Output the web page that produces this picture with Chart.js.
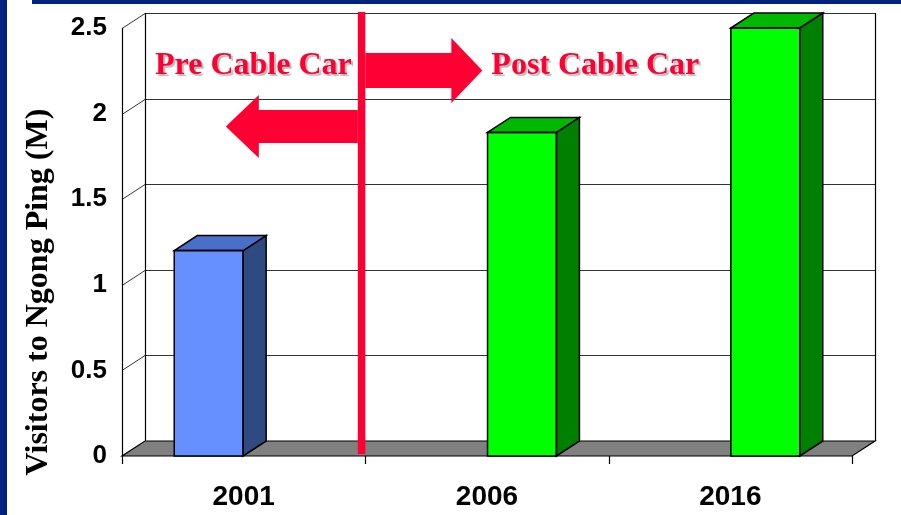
<!DOCTYPE html>
<html>
<head>
<meta charset="utf-8">
<script src="https://cdn.jsdelivr.net/npm/chart.js@4"></script>
<style>
  html, body { margin: 0; padding: 0; background: #ffffff; }
  #wrap { position: relative; width: 901px; height: 515px; }
</style>
</head>
<body>
<div id="wrap"><canvas id="c" width="901" height="515"></canvas></div>
<script>
// ---- data ----
const categories = ['2001', '2006', '2016'];
const preCableCar = [1.2, null, null];
const postCableCar = [null, 1.89, 2.5];
const yMin = 0;
const yMax = 2.5;
const yStep = 0.5;
const yTitle = 'Visitors to Ngong Ping (M)';
const preLabel = 'Pre Cable Car';
const postLabel = 'Post Cable Car';

// ---- style ----
const DX = 23, DY = 15;
const RED = '#FF0033';
const NAVY = '#00247D';
const faces = [
  { front: '#6690FF', top: '#4A6FC9', side: '#2F4A80' },
  { front: '#00FF00', top: '#00B800', side: '#008000' }
];

const threeD = {
  id: 'threeD',
  beforeDraw(chart) {
    const ctx = chart.ctx;
    ctx.save();
    ctx.fillStyle = '#ffffff';
    ctx.fillRect(0, 0, chart.width, chart.height);
    ctx.fillStyle = NAVY;
    ctx.fillRect(0, 0, 7, chart.height);
    ctx.fillRect(32, 0, chart.width - 32, 4);
    ctx.restore();
  },
  beforeDatasetsDraw(chart) {
    const ctx = chart.ctx;
    const a = chart.chartArea;
    const ys = chart.scales.y;
    ctx.save();
    ctx.lineWidth = 1;
    ctx.strokeStyle = '#333333';
    ys.ticks.forEach(t => {
      const py = Math.round(ys.getPixelForValue(t.value)) + 0.5;
      ctx.beginPath();
      ctx.moveTo(a.left + DX, py - DY);
      ctx.lineTo(a.right + DX, py - DY);
      ctx.stroke();
      ctx.beginPath();
      ctx.moveTo(a.left, py);
      ctx.lineTo(a.left + DX, py - DY);
      ctx.stroke();
    });
    ctx.strokeStyle = '#000000';
    ctx.lineWidth = 1.2;
    ctx.beginPath();
    ctx.moveTo(a.left + DX + 0.5, a.top - DY);
    ctx.lineTo(a.left + DX + 0.5, a.bottom - DY);
    ctx.moveTo(a.right + DX + 0.5, a.top - DY);
    ctx.lineTo(a.right + DX + 0.5, a.bottom - DY);
    ctx.stroke();
    ctx.beginPath();
    ctx.moveTo(a.left, a.bottom);
    ctx.lineTo(a.right, a.bottom);
    ctx.lineTo(a.right + DX, a.bottom - DY);
    ctx.lineTo(a.left + DX, a.bottom - DY);
    ctx.closePath();
    ctx.fillStyle = '#808080';
    ctx.fill();
    ctx.stroke();
    ctx.beginPath();
    ctx.moveTo(a.left + 0.5, a.top);
    ctx.lineTo(a.left + 0.5, a.bottom);
    ctx.stroke();
    const n = categories.length;
    const cw = (a.right - a.left) / n;
    ctx.beginPath();
    for (let i = 0; i <= n; i++) {
      const px = Math.round(a.left + i * cw) + 0.5;
      ctx.moveTo(px, a.bottom);
      ctx.lineTo(px, a.bottom + 8);
    }
    ctx.stroke();
    ctx.restore();
  },
  afterDatasetsDraw(chart) {
    const ctx = chart.ctx;
    const a = chart.chartArea;
    const xs = chart.scales.x;
    ctx.save();
    ctx.lineWidth = 1.5;
    ctx.strokeStyle = '#000000';
    ctx.lineJoin = 'miter';
    chart.data.datasets.forEach((ds, di) => {
      const meta = chart.getDatasetMeta(di);
      meta.data.forEach((el, i) => {
        if (ds.data[i] == null) return;
        const p = el.getProps(['x', 'y', 'base', 'width'], true);
        const l = p.x - p.width / 2, r = p.x + p.width / 2;
        ctx.beginPath();
        ctx.moveTo(r, p.y);
        ctx.lineTo(r + DX, p.y - DY);
        ctx.lineTo(r + DX, p.base - DY);
        ctx.lineTo(r, p.base);
        ctx.closePath();
        ctx.fillStyle = faces[di].side;
        ctx.fill();
        ctx.stroke();
        ctx.beginPath();
        ctx.moveTo(l, p.y);
        ctx.lineTo(l + DX, p.y - DY);
        ctx.lineTo(r + DX, p.y - DY);
        ctx.lineTo(r, p.y);
        ctx.closePath();
        ctx.fillStyle = faces[di].top;
        ctx.fill();
        ctx.stroke();
        ctx.strokeRect(l, p.y, p.width, p.base - p.y);
      });
    });

    const bx = (xs.getPixelForValue(0) + xs.getPixelForValue(1)) / 2;
    const lineL = bx - 7.5, lineR = bx;
    ctx.fillStyle = RED;
    ctx.fillRect(lineL, a.top - 16, lineR - lineL, a.bottom - 2 - (a.top - 16));

    const ry = a.top + 42.5;
    ctx.beginPath();
    ctx.moveTo(lineR, ry - 17.5);
    ctx.lineTo(lineR + 86, ry - 17.5);
    ctx.lineTo(lineR + 86, ry - 32.5);
    ctx.lineTo(lineR + 117, ry);
    ctx.lineTo(lineR + 86, ry + 32.5);
    ctx.lineTo(lineR + 86, ry + 17.5);
    ctx.lineTo(lineR, ry + 17.5);
    ctx.closePath();
    ctx.fill();
    const ly = a.top + 98.5;
    ctx.beginPath();
    ctx.moveTo(lineL, ly - 16.5);
    ctx.lineTo(lineL - 99, ly - 16.5);
    ctx.lineTo(lineL - 99, ly - 31.5);
    ctx.lineTo(lineL - 132, ly);
    ctx.lineTo(lineL - 99, ly + 31.5);
    ctx.lineTo(lineL - 99, ly + 16.5);
    ctx.lineTo(lineL, ly + 16.5);
    ctx.closePath();
    ctx.fill();

    ctx.font = 'bold 32px "Liberation Serif", "Times New Roman", serif';
    ctx.textAlign = 'left';
    ctx.textBaseline = 'alphabetic';
    ctx.shadowColor = 'rgba(0,0,0,0.28)';
    ctx.shadowOffsetX = 2;
    ctx.shadowOffsetY = 2;
    ctx.shadowBlur = 1;
    ctx.fillStyle = RED;
    ctx.fillText(preLabel, a.left + 33, a.top + 46);
    ctx.fillText(postLabel, lineR + 126, a.top + 46);
    ctx.restore();

    ctx.save();
    ctx.font = 'bold 32px "Liberation Serif", "Times New Roman", serif';
    ctx.fillStyle = '#000000';
    ctx.textAlign = 'center';
    ctx.textBaseline = 'alphabetic';
    ctx.translate(47, 292);
    ctx.rotate(-Math.PI / 2);
    ctx.fillText(yTitle, 0, 0);
    ctx.restore();
  }
};

new Chart(document.getElementById('c'), {
  type: 'bar',
  data: {
    labels: categories,
    datasets: [
      { label: preLabel, data: preCableCar, backgroundColor: faces[0].front, borderWidth: 0,
        categoryPercentage: 0.575, barPercentage: 0.985 },
      { label: postLabel, data: postCableCar, backgroundColor: faces[1].front, borderWidth: 0,
        categoryPercentage: 0.575, barPercentage: 0.985 }
    ]
  },
  options: {
    responsive: false,
    animation: false,
    devicePixelRatio: 1,
    layout: { padding: { left: 0, right: 49, top: 28, bottom: 0 } },
    plugins: { legend: { display: false }, tooltip: { enabled: false } },
    scales: {
      x: {
        grid: { display: false },
        border: { display: false },
        ticks: {
          color: '#000000',
          padding: 16,
          font: { family: '"Liberation Sans", Arial, sans-serif', size: 28, weight: 'bold' }
        },
        afterFit(s) { s.height = 59; }
      },
      y: {
        min: yMin, max: yMax,
        grid: { display: false },
        border: { display: false },
        ticks: {
          stepSize: yStep,
          color: '#000000',
          padding: 7,
          callback: v => String(v),
          font: { family: '"Liberation Sans", Arial, sans-serif', size: 26, weight: 'bold' }
        },
        afterFit(s) { s.width = 122; }
      }
    }
  },
  plugins: [threeD]
});
</script>
</body>
</html>
